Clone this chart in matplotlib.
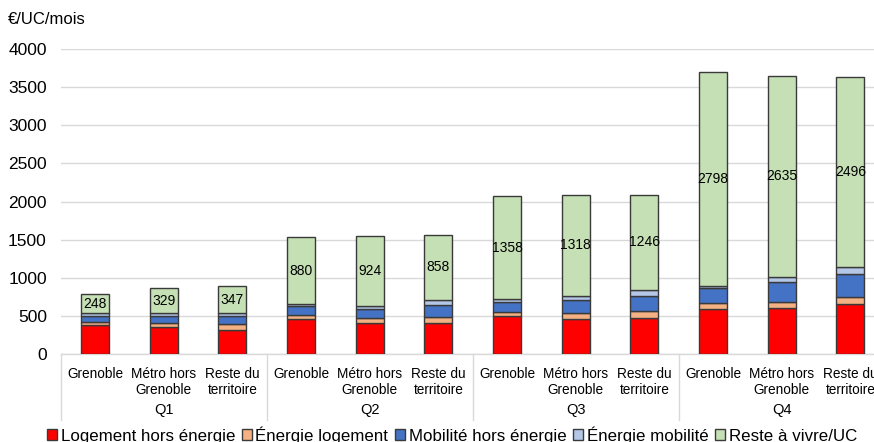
import matplotlib
matplotlib.use("Agg")
from matplotlib import pyplot as plt
from matplotlib.patches import Patch
import matplotlib.transforms as mtransforms
import numpy as np

plt.rcParams["font.family"] = ["Liberation Sans", "DejaVu Sans"]

# categories
zones = ["Grenoble", "Métro hors\nGrenoble", "Reste du\nterritoire"]
quartiles = ["Q1", "Q2", "Q3", "Q4"]

# series (€/UC/mois), order: Q1 (3 zones), Q2, Q3, Q4
logement = [380, 349, 314, 459, 402, 410, 498, 463, 476, 590, 607, 655]
energie_log = [42, 52, 75, 52, 66, 79, 56, 70, 83, 74, 78, 96]
mobilite = [80, 100, 109, 118, 122, 153, 127, 174, 201, 205, 254, 293]
energie_mob = [31, 31, 43, 22, 39, 65, 35, 57, 80, 26, 74, 92]
reste = [248, 329, 347, 880, 924, 858, 1358, 1318, 1246, 2798, 2635, 2496]

series = [
    ("Logement hors énergie", logement, "#FF0000"),
    ("Énergie logement", energie_log, "#F4B183"),
    ("Mobilité hors énergie", mobilite, "#4472C4"),
    ("Énergie mobilité", energie_mob, "#B4C7E7"),
    ("Reste à vivre/UC", reste, "#C5E0B4"),
]

W, H = 874, 442
fig = plt.figure(figsize=(W / 100, H / 100), dpi=100)
# plot area is cropped on the right in the original
ax = fig.add_axes([60.7 / W, 1 - 354 / H, 824 / W, 305 / H])

x = np.arange(len(logement))
bottom = np.zeros(len(x))
handles = []
for name, vals, col in series:
    cont = ax.bar(x, vals, width=0.41, bottom=bottom, color=col,
                  edgecolor="#3a3a3a", linewidth=1, zorder=3)
    bottom += np.array(vals)
    handles.append(Patch(facecolor=col, edgecolor="#3a3a3a", linewidth=1, label=name))

# value labels in the green segment
ax.bar_label(cont, labels=[str(v) for v in reste], label_type="center",
             fontsize=10, zorder=4)

ax.set_xlim(-0.5, len(x) - 0.5)
ax.set_ylim(0, 4000)
ax.set_yticks(np.arange(0, 4001, 500))
ax.tick_params(axis="y", length=0, pad=10, labelsize=12.5)
ax.yaxis.grid(True, color="#d9d9d9", linewidth=1, zorder=0)
ax.set_axisbelow(True)
for s in ["left", "top", "right"]:
    ax.spines[s].set_visible(False)
ax.spines["bottom"].set_color("#d9d9d9")
ax.spines["bottom"].set_linewidth(1)

# two-level category axis
ax.set_xticks(x)
ax.set_xticklabels(zones * len(quartiles), fontsize=9.8, linespacing=1.25)
ax.tick_params(axis="x", length=0, pad=9)

trans = mtransforms.blended_transform_factory(ax.transData, ax.transAxes)
for i, q in enumerate(quartiles):
    ax.text(3 * i + 1, -56 / 305, q, transform=trans, ha="center", va="center",
            fontsize=10.5)
for b in np.arange(-0.5, len(x), 3):
    ax.plot([b, b], [0, -66 / 305], transform=trans, color="#d9d9d9",
            linewidth=1, clip_on=False)

fig.text(8 / W, 1 - 20 / H, "€/UC/mois", fontsize=12, va="center", ha="left")

fig.legend(handles=handles, loc="center", bbox_to_anchor=(452 / W, 1 - 435 / H),
           ncol=5, frameon=False, fontsize=12.2, handlelength=0.6,
           handleheight=0.6, handletextpad=0.2, columnspacing=0.4)

fig.savefig("out.png", dpi=100)
